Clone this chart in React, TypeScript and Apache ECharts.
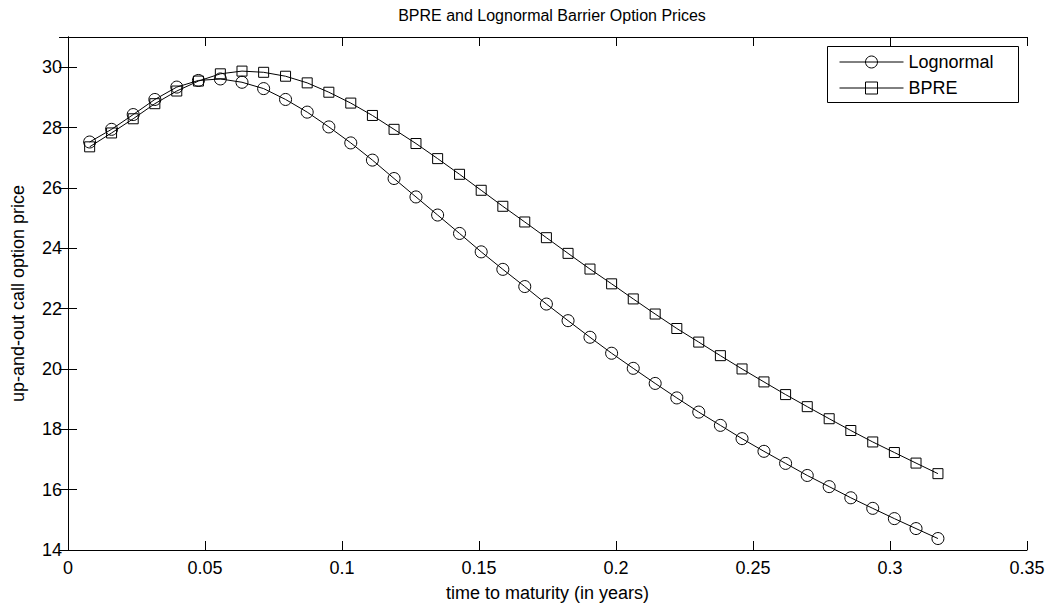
import React, { useEffect, useRef } from "react";
import * as echarts from "echarts";

const times: number[] = [
  0.0079, 0.0159, 0.0238, 0.0317, 0.0397, 0.0476, 0.0556, 0.0635, 0.0714, 0.0794,
  0.0873, 0.0952, 0.1032, 0.1111, 0.119, 0.127, 0.1349, 0.1429, 0.1508, 0.1587,
  0.1667, 0.1746, 0.1825, 0.1905, 0.1984, 0.2063, 0.2143, 0.2222, 0.2302, 0.2381,
  0.246, 0.254, 0.2619, 0.2698, 0.2778, 0.2857, 0.2937, 0.3016, 0.3095, 0.3175,
];

const lognormal: number[] = [
  27.52, 27.94, 28.43, 28.93, 29.34, 29.56, 29.61, 29.5, 29.29, 28.93,
  28.51, 28.02, 27.49, 26.92, 26.31, 25.7, 25.1, 24.49, 23.88, 23.3,
  22.73, 22.15, 21.6, 21.05, 20.52, 20.02, 19.52, 19.04, 18.57, 18.13,
  17.69, 17.27, 16.87, 16.47, 16.1, 15.73, 15.38, 15.04, 14.71, 14.38,
];

const bpre: number[] = [
  27.36, 27.82, 28.29, 28.79, 29.21, 29.54, 29.78, 29.87, 29.83, 29.7,
  29.48, 29.17, 28.81, 28.4, 27.94, 27.47, 26.97, 26.45, 25.92, 25.39,
  24.87, 24.35, 23.83, 23.31, 22.82, 22.32, 21.82, 21.34, 20.89, 20.44,
  20.0, 19.57, 19.15, 18.75, 18.35, 17.96, 17.58, 17.23, 16.88, 16.53,
];

const seriesNames = ["Lognormal", "BPRE"];
const FONT = "Liberation Sans, Arial, Helvetica, sans-serif";

export default function App() {
  const ref = useRef<HTMLDivElement>(null);
  useEffect(() => {
    if (!ref.current) return;
    const chart = echarts.init(ref.current, undefined, { renderer: "svg" });
    const axisLine = { show: true, lineStyle: { color: "#000", width: 1 } };
    const tick = { show: true, inside: true, length: 9, lineStyle: { color: "#000", width: 1 } };
    const labelStyle = { color: "#000", fontSize: 18, fontFamily: FONT };
    const mk = (name: string, ys: number[], symbol: string, size: number) => ({
      name,
      type: "line",
      data: times.map((t, i) => [t, ys[i]]),
      symbol,
      symbolSize: size,
      showSymbol: true,
      lineStyle: { color: "#000", width: 1 },
      itemStyle: { color: "rgba(0,0,0,0)", borderColor: "#000", borderWidth: 1 },
      emphasis: { disabled: true },
      z: 2,
    });
    chart.setOption({
      animation: false,
      backgroundColor: "#fff",
      title: {
        text: "BPRE and Lognormal Barrier Option Prices",
        left: 547,
        textAlign: "center",
        top: 2,
        textStyle: { color: "#000", fontSize: 16, fontWeight: "normal", fontFamily: FONT },
      },
      grid: { left: 68, right: 29, top: 37, bottom: 60, containLabel: false },
      graphic: [
        {
          type: "rect",
          shape: { x: 827.5, y: 46.5, width: 191, height: 56 },
          style: { fill: "#fff", stroke: "#000", lineWidth: 1 },
          z: 10,
        },
      ],
      legend: {
        data: seriesNames,
        orient: "vertical",
        left: 839,
        top: 53,
        itemWidth: 64,
        itemHeight: 15,
        itemGap: 8,
        padding: 0,
        z: 20,
        lineStyle: { width: 1, color: "#000" },
        itemStyle: { color: "rgba(0,0,0,0)", borderColor: "#000", borderWidth: 1 },
        textStyle: { color: "#000", fontSize: 18, fontFamily: FONT },
        selectedMode: false,
      },
      xAxis: [
        {
          type: "value",
          min: 0,
          max: 0.35,
          interval: 0.05,
          position: "bottom",
          name: "time to maturity (in years)",
          nameLocation: "middle",
          nameGap: 34,
          nameTextStyle: { color: "#000", fontSize: 18, fontFamily: FONT },
          axisLine,
          axisTick: tick,
          axisLabel: { ...labelStyle, margin: 9 },
          splitLine: { show: false },
        },
        {
          type: "value",
          min: 0,
          max: 0.35,
          interval: 0.05,
          position: "top",
          axisLine,
          axisTick: tick,
          axisLabel: { show: false },
          splitLine: { show: false },
        },
      ],
      yAxis: [
        {
          type: "value",
          min: 14,
          max: 31,
          interval: 2,
          position: "left",
          name: "up-and-out call option price",
          nameLocation: "middle",
          nameGap: 41,
          nameTextStyle: { color: "#000", fontSize: 18, fontFamily: FONT },
          axisLine,
          axisTick: tick,
          axisLabel: { ...labelStyle, margin: 6, showMaxLabel: false },
          splitLine: { show: false },
        },
        {
          type: "value",
          min: 14,
          max: 31,
          interval: 2,
          position: "right",
          axisLine,
          axisTick: tick,
          axisLabel: { show: false },
          splitLine: { show: false },
        },
      ],
      series: [mk(seriesNames[0], lognormal, "circle", 12), mk(seriesNames[1], bpre, "rect", 10)],
    });
    return () => chart.dispose();
  }, []);
  return (
    <div
      ref={ref}
      style={{ position: "absolute", left: 0, top: 0, width: 1056, height: 610 }}
    />
  );
}
